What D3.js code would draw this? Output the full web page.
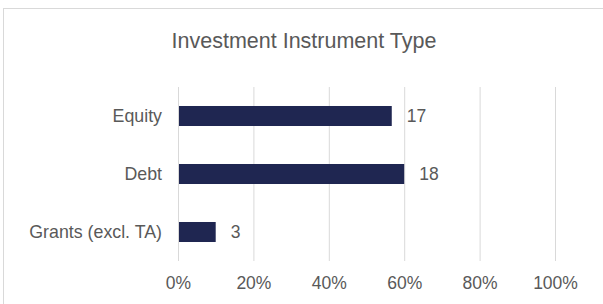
<!DOCTYPE html>
<html>
<head>
<meta charset="utf-8">
<script src="https://cdn.jsdelivr.net/npm/d3@7/dist/d3.min.js"></script>
<style>
  html, body { margin: 0; padding: 0; background: #fff; }
  text { font-family: "Liberation Sans", Arial, sans-serif; fill: #595959; }
</style>
</head>
<body>
<svg id="chart" width="603" height="304"></svg>
<script>
const title = "Investment Instrument Type";
const categories = ["Equity", "Debt", "Grants (excl. TA)"];
const counts = [17, 18, 3];
const shares = [0.567, 0.600, 0.100];
const tickValues = [0, 0.2, 0.4, 0.6, 0.8, 1.0];

const svg = d3.select("#chart");
const W = 603, H = 304;
const margin = { left: 178, right: 48, top: 87, bottom: 43 };

// chart border
svg.append("rect")
  .attr("x", 3.5).attr("y", 8.5)
  .attr("width", W + 10).attr("height", H + 10)
  .attr("fill", "#fff").attr("stroke", "#D9D9D9").attr("stroke-width", 1);

const x = d3.scaleLinear().domain([0, 1]).range([margin.left, W - margin.right]);
const y = d3.scaleBand().domain(categories).range([margin.top, H - margin.bottom]).paddingInner(0.655).paddingOuter(0.3275);

// title
svg.append("text")
  .attr("x", 304).attr("y", 48)
  .attr("text-anchor", "middle")
  .style("font-size", "21.5px")
  .text(title);

// gridlines + tick labels via axis
const xAxis = d3.axisBottom(x)
  .tickValues(tickValues)
  .tickSize(-(H - margin.bottom - margin.top))
  .tickPadding(16)
  .tickFormat(d3.format(".0%"));

const gx = svg.append("g")
  .attr("transform", `translate(0,${H - margin.bottom})`)
  .call(xAxis);
gx.select(".domain").remove();
gx.selectAll(".tick line").attr("stroke", "#D9D9D9").attr("stroke-width", 1);
gx.selectAll(".tick text")
  .attr("fill", "#595959")
  .style("font-size", "17.5px")
  .style("font-family", '"Liberation Sans", Arial, sans-serif');

// category labels via axis
const yAxis = d3.axisLeft(y).tickSize(0).tickPadding(16);
const gy = svg.append("g")
  .attr("transform", `translate(${margin.left},0)`)
  .call(yAxis);
gy.select(".domain").remove();
gy.selectAll(".tick text")
  .attr("fill", "#595959")
  .style("font-size", "17.8px")
  .style("font-family", '"Liberation Sans", Arial, sans-serif');

// bars
const data = categories.map((c, i) => ({ c, share: shares[i], count: counts[i] }));
svg.append("g").selectAll("rect")
  .data(data).join("rect")
  .attr("x", x(0) + 1)
  .attr("y", d => y(d.c))
  .attr("width", d => x(d.share) - x(0) - 1)
  .attr("height", y.bandwidth())
  .attr("fill", "#1F2651");

// data labels
svg.append("g").selectAll("text")
  .data(data).join("text")
  .attr("x", d => x(d.share) + 15)
  .attr("y", d => y(d.c) + y.bandwidth() / 2)
  .attr("dy", "0.36em")
  .style("font-size", "17.5px")
  .text(d => d.count);
</script>
</body>
</html>
